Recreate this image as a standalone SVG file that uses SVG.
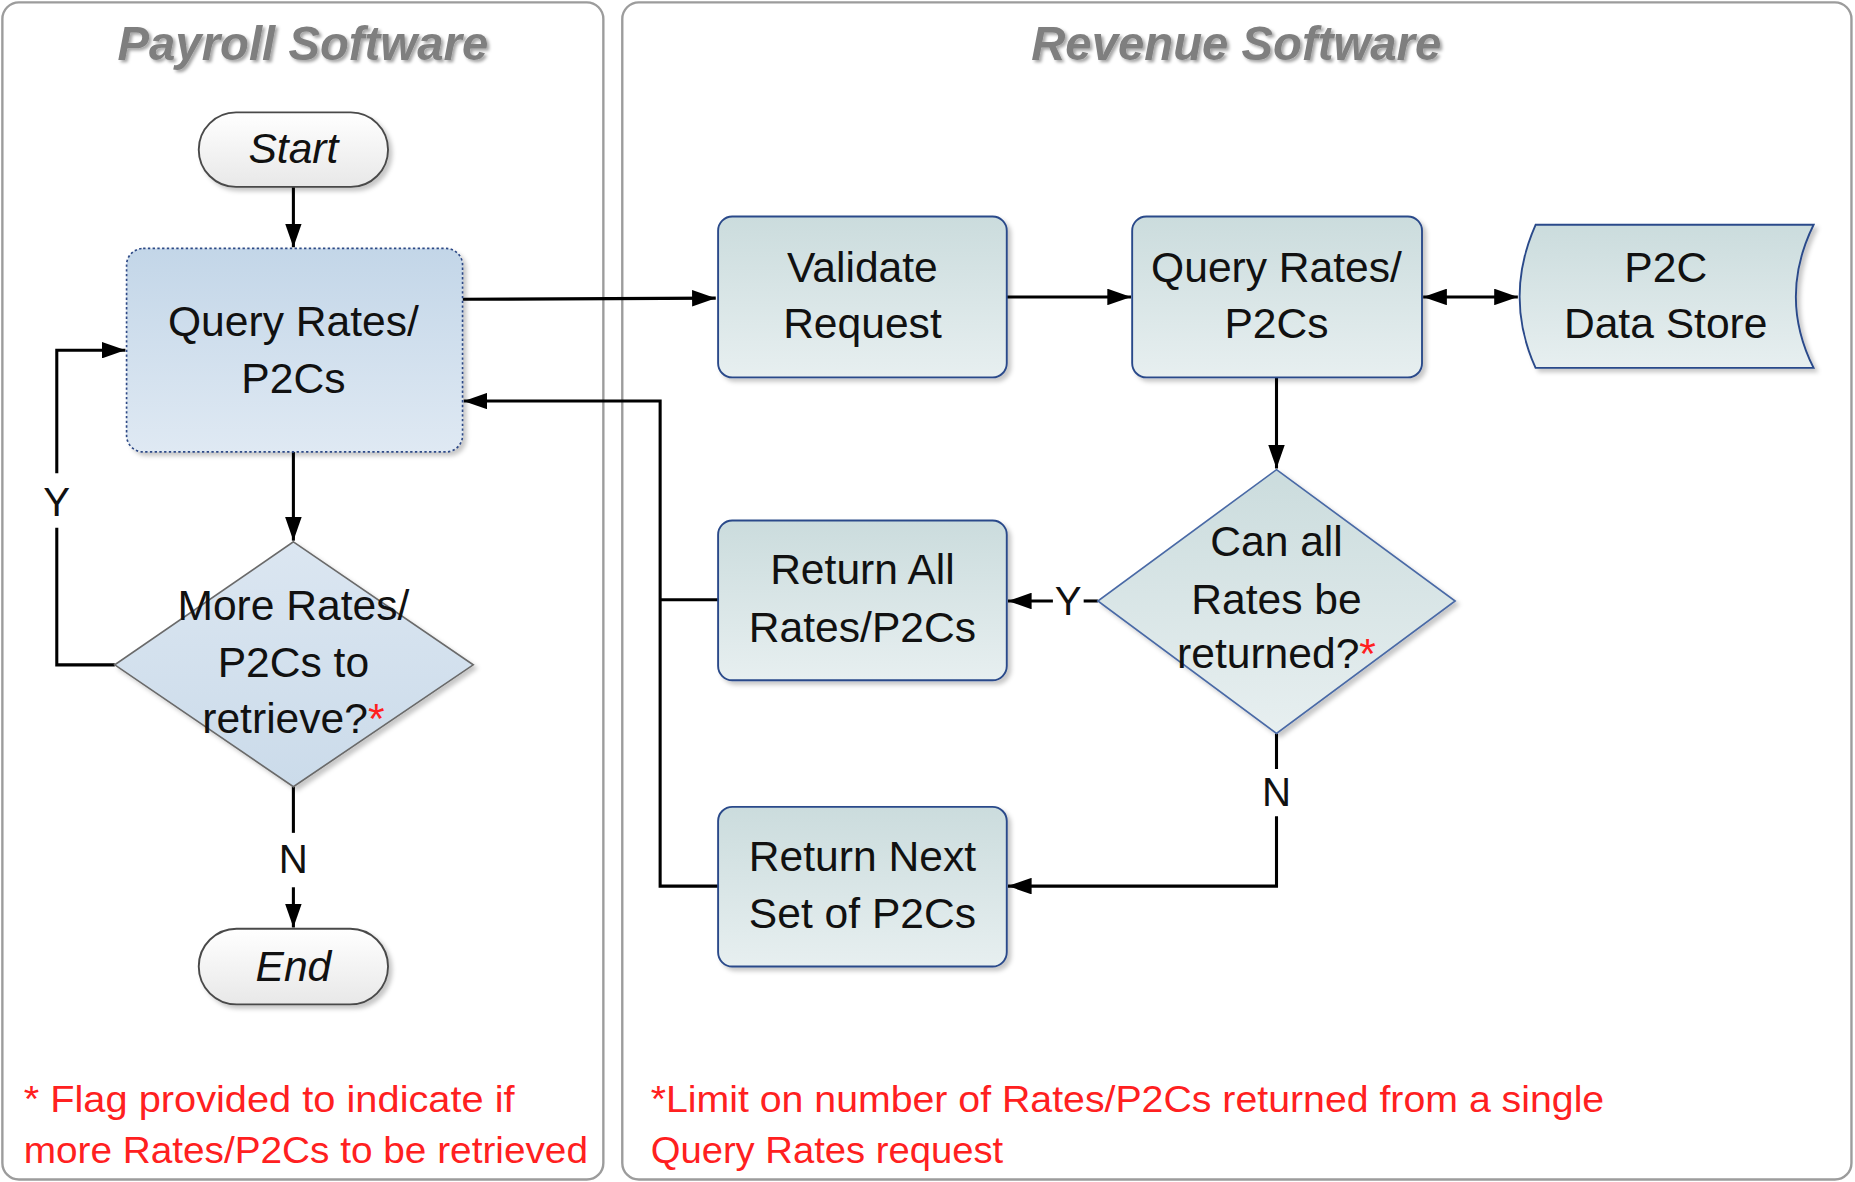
<svg xmlns="http://www.w3.org/2000/svg" width="1855" height="1182" viewBox="0 0 1855 1182">
<defs>
<style>
.lane{fill:#ffffff;stroke:#9c9c9c;stroke-width:2}
.title{font-family:"Liberation Sans",Arial,sans-serif;font-weight:bold;font-style:italic;font-size:40px;fill:#7f7f7f;text-anchor:middle}
.t{font-family:"Liberation Sans",Arial,sans-serif;font-size:36px;fill:#111;text-anchor:middle}
.ti{font-family:"Liberation Sans",Arial,sans-serif;font-size:36px;font-style:italic;fill:#111;text-anchor:middle}
.lbl{font-family:"Liberation Sans",Arial,sans-serif;font-size:34px;fill:#111;text-anchor:middle}
.note{font-family:"Liberation Sans",Arial,sans-serif;font-size:31px;fill:#ff2020}
.red{fill:#ff2020}
.box{fill:url(#gTeal);stroke:#2a4a8a;stroke-width:1.6}
.pill{fill:url(#gPill);stroke:#4a4a4a;stroke-width:1.6}
.conn{fill:none;stroke:#000;stroke-width:2.6}
</style>
<linearGradient id="gTeal" x1="0" y1="0" x2="0" y2="1">
<stop offset="0" stop-color="#cbdcdd"/><stop offset="1" stop-color="#e7eff0"/>
</linearGradient>
<linearGradient id="gBlue" x1="0" y1="0" x2="0" y2="1">
<stop offset="0" stop-color="#c3d6e8"/><stop offset="1" stop-color="#dfe9f3"/>
</linearGradient>
<linearGradient id="gBlueD" x1="0" y1="0" x2="0" y2="1">
<stop offset="0" stop-color="#dbe6f1"/><stop offset="1" stop-color="#cbdbea"/>
</linearGradient>
<linearGradient id="gPill" x1="0" y1="0" x2="0" y2="1">
<stop offset="0" stop-color="#ffffff"/><stop offset="1" stop-color="#e8e8e8"/>
</linearGradient>
<filter id="sh" x="-10%" y="-10%" width="130%" height="130%">
<feDropShadow dx="3" dy="3" stdDeviation="2" flood-color="#000" flood-opacity="0.22"/>
</filter>
<filter id="tsh" x="-10%" y="-20%" width="130%" height="160%">
<feDropShadow dx="2" dy="2" stdDeviation="1.5" flood-color="#000" flood-opacity="0.35"/>
</filter>
<marker id="arr" viewBox="0 0 20 14" markerUnits="userSpaceOnUse" markerWidth="20" markerHeight="14" refX="20" refY="7" orient="auto-start-reverse">
<path d="M0,0 L20,7 L0,14 Z" fill="#000"/>
</marker>
</defs>
<g transform="scale(1.18304)">
<g id="lanes">
<rect id="lane-payroll" class="lane" x="2" y="2" width="508" height="995" rx="14"/>
<rect id="lane-revenue" class="lane" x="526" y="2" width="1039" height="995" rx="14"/>
<text class="title" x="256" y="51" filter="url(#tsh)">Payroll Software</text>
<text class="title" x="1045" y="51" filter="url(#tsh)">Revenue Software</text>
</g>
<g id="connectors">
<path class="conn" d="M248,158 L248,209" marker-end="url(#arr)"/>
<path class="conn" d="M248,382 L248,457" marker-end="url(#arr)"/>
<path class="conn" d="M248,665 L248,704"/>
<text class="lbl" x="248" y="738">N</text>
<path class="conn" d="M248,750 L248,784" marker-end="url(#arr)"/>
<path class="conn" d="M97,562 L48,562 L48,446"/>
<text class="lbl" x="48" y="436">Y</text>
<path class="conn" d="M48,400 L48,296 L106,296" marker-end="url(#arr)"/>
<path class="conn" d="M391,253 L605,252" marker-end="url(#arr)"/>
<path class="conn" d="M851,251 L956,251" marker-end="url(#arr)"/>
<path class="conn" d="M1203,251 L1283,251" marker-start="url(#arr)" marker-end="url(#arr)"/>
<path class="conn" d="M1079,319 L1079,396" marker-end="url(#arr)"/>
<path class="conn" d="M928,508 L916,508"/>
<text class="lbl" x="903" y="520">Y</text>
<path class="conn" d="M890,508 L852,508" marker-end="url(#arr)"/>
<path class="conn" d="M1079,620 L1079,650"/>
<text class="lbl" x="1079" y="681">N</text>
<path class="conn" d="M1079,690 L1079,749 L852,749" marker-end="url(#arr)"/>
<path class="conn" d="M607,507 L558,507"/>
<path class="conn" d="M607,749 L558,749 L558,339 L392,339" marker-end="url(#arr)"/>
</g>
<g id="start">
<rect class="pill" x="168" y="95" width="160" height="63" rx="31.5" filter="url(#sh)"/>
<text class="ti" x="248" y="138">Start</text>
</g>
<g id="payroll-query">
<rect x="107" y="210" width="284" height="172" rx="14" fill="url(#gBlue)" stroke="#2e4a86" stroke-width="1.4" stroke-dasharray="2,2" filter="url(#sh)"/>
<text class="t" x="248" y="284">Query Rates/</text>
<text class="t" x="248" y="332">P2Cs</text>
</g>
<g id="payroll-decision">
<path d="M248,458 L400,562 L248,665 L97,562 Z" fill="url(#gBlueD)" stroke="#6a6a6a" stroke-width="1.4" filter="url(#sh)"/>
<text class="t" x="248" y="524">More Rates/</text>
<text class="t" x="248" y="572">P2Cs to</text>
<text class="t" x="248" y="620">retrieve?<tspan class="red">*</tspan></text>
</g>
<g id="end">
<rect class="pill" x="168" y="785" width="160" height="64" rx="32" filter="url(#sh)"/>
<text class="ti" x="248" y="829">End</text>
</g>
<g id="validate">
<rect class="box" x="607" y="183" width="244" height="136" rx="12" filter="url(#sh)"/>
<text class="t" x="729" y="238">Validate</text>
<text class="t" x="729" y="286">Request</text>
</g>
<g id="revenue-query">
<rect class="box" x="957" y="183" width="245" height="136" rx="12" filter="url(#sh)"/>
<text class="t" x="1079" y="238">Query Rates/</text>
<text class="t" x="1079" y="286">P2Cs</text>
</g>
<g id="datastore">
<path class="box" d="M1298,190 L1533,190 Q1503,251 1533,311 L1298,311 Q1271,251 1298,190 Z" filter="url(#sh)"/>
<text class="t" x="1408" y="238">P2C</text>
<text class="t" x="1408" y="286">Data Store</text>
</g>
<g id="revenue-decision">
<path d="M1079,397 L1230,508 L1079,620 L928,508 Z" fill="url(#gTeal)" stroke="#4a6aa6" stroke-width="1.4" filter="url(#sh)"/>
<text class="t" x="1079" y="470">Can all</text>
<text class="t" x="1079" y="519">Rates be</text>
<text class="t" x="1079" y="565">returned?<tspan class="red">*</tspan></text>
</g>
<g id="return-all">
<rect class="box" x="607" y="440" width="244" height="135" rx="12" filter="url(#sh)"/>
<text class="t" x="729" y="494">Return All</text>
<text class="t" x="729" y="543">Rates/P2Cs</text>
</g>
<g id="return-next">
<rect class="box" x="607" y="682" width="244" height="135" rx="12" filter="url(#sh)"/>
<text class="t" x="729" y="736">Return Next</text>
<text class="t" x="729" y="784">Set of P2Cs</text>
</g>
<g id="notes">
<text class="note" x="20" y="940" textLength="415" lengthAdjust="spacingAndGlyphs">* Flag provided to indicate if</text>
<text class="note" x="20" y="983" textLength="477" lengthAdjust="spacingAndGlyphs">more Rates/P2Cs to be retrieved</text>
<text class="note" x="550" y="940" textLength="806" lengthAdjust="spacingAndGlyphs">*Limit on number of Rates/P2Cs returned from a single</text>
<text class="note" x="550" y="983" textLength="298" lengthAdjust="spacingAndGlyphs">Query Rates request</text>
</g>
</g>
</svg>
